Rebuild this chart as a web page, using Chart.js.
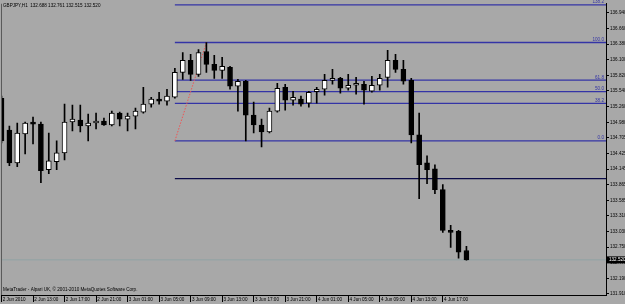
<!DOCTYPE html>
<html><head><meta charset="utf-8">
<script src="https://cdn.jsdelivr.net/npm/chart.js@4.4.1/dist/chart.umd.min.js"></script>
<style>html,body{margin:0;padding:0;background:#a8a8a8;overflow:hidden}#wrap{width:625px;height:304px;position:relative}canvas{display:block}</style>
</head><body><div id="wrap"><canvas id="c" width="625" height="304"></canvas></div>
<script>
const symbolTitle = 'GBPJPY,H1  132.688 132.761 132.515 132.520';
const copyright = 'MetaTrader - Alpari UK, \u00A9 2001-2010 MetaQuotes Software Corp.';

const opens  = [135.411,134.843,134.256,134.772,134.985,134.949,134.132,134.274,134.434,134.985,
                135.020,134.914,134.967,135.003,134.932,135.145,135.038,135.092,135.163,135.305,
                135.394,135.358,135.429,135.874,136.087,135.838,136.247,136.016,135.909,135.962,
                135.625,135.714,135.109,134.932,134.807,135.180,135.607,135.376,135.394,135.323,
                135.527,135.571,135.731,135.767,135.589,135.643,135.660,135.536,135.643,135.785,
                136.087,135.927,135.731,134.754,134.256,134.150,133.776,133.048,133.030,132.688];
const highs  = [135.447,134.914,134.967,134.985,135.074,134.985,134.789,134.647,135.305,135.287,
                135.287,135.127,135.145,135.056,135.180,135.163,135.145,135.234,135.607,135.429,
                135.518,135.571,135.945,136.229,136.194,136.282,136.407,136.176,136.140,135.980,
                135.749,135.731,135.340,135.038,135.234,135.678,135.660,135.536,135.447,135.536,
                135.607,135.838,135.927,135.785,135.838,135.785,135.714,135.802,135.838,136.265,
                136.194,136.087,135.767,135.145,134.381,134.221,133.865,133.136,133.048,132.761];
const lows   = [134.612,134.203,134.185,134.416,134.594,133.901,134.061,134.132,134.309,134.825,
                134.807,134.647,134.860,134.925,134.914,134.914,134.825,134.860,135.145,135.251,
                135.305,135.287,135.411,135.749,135.731,135.802,135.874,135.767,135.767,135.571,
                135.180,134.647,134.789,134.541,134.789,135.163,135.198,135.287,135.269,135.251,
                135.323,135.465,135.660,135.500,135.554,135.483,135.305,135.518,135.554,135.607,
                135.874,135.660,134.612,133.616,133.883,133.705,133.012,132.745,132.550,132.515];
const closes = [134.647,134.256,134.789,134.967,134.949,134.114,134.292,134.434,134.985,135.038,
                134.914,134.967,135.003,134.932,135.145,135.038,135.092,135.180,135.305,135.394,
                135.358,135.447,135.874,136.087,135.838,136.229,136.016,135.909,135.980,135.625,
                135.714,135.109,134.932,134.807,135.180,135.589,135.376,135.429,135.305,135.518,
                135.571,135.731,135.767,135.589,135.643,135.678,135.554,135.643,135.767,136.087,
                135.927,135.714,134.754,134.221,134.132,133.776,133.048,133.012,132.657,132.520];

const timeLabelBars = [0,4,8,12,16,20,24,28,32,36,40,44,48,52,56];
const timeLabels = ['2 Jun 2010','2 Jun 13:00','2 Jun 17:00','2 Jun 21:00','3 Jun 01:00','3 Jun 05:00',
                    '3 Jun 09:00','3 Jun 13:00','3 Jun 17:00','3 Jun 21:00','4 Jun 01:00','4 Jun 05:00',
                    '4 Jun 09:00','4 Jun 13:00','4 Jun 17:00'];
const priceTicks = [136.940,136.660,136.380,136.100,135.820,135.540,135.260,134.980,134.705,134.425,
                    134.145,133.865,133.585,133.310,133.030,132.750,132.470,132.190,131.910];

const fibLevels = [0, 38.2, 50, 61.8, 100, 138.2];
const fibLow = 134.647, fibHigh = 136.407;
const fibStartBar = 22, fibEndBar = 26;
const hLinePrice = 133.972;
const hLineStartBar = 22;
const bidPrice = 132.520;

const X_MIN = -0.0635, X_MAX = 76.71;
const Y_MIN = 131.892, Y_MAX = 137.100;
const FONT = {family:'"Liberation Sans", Arial, sans-serif', size:4.6};
const FIB_COLOR = '#3434a6';

const bodies = opens.map((o,i)=>({x:i, y:[o, closes[i]]}));
const wicks = highs.map((h,i)=>({x:i, y:[lows[i], h]}));
const bodyColors = opens.map((o,i)=> closes[i] >= o ? '#ffffff' : '#000000');
const fibPrice = l => fibLow + (fibHigh - fibLow) * l / 100;

const lineDs = (data, color, width, dash) => ({
  type:'line', data, borderColor:color, borderWidth:width, borderDash:dash||[],
  pointRadius:0, fill:false, tension:0
});

const datasets = [
  {type:'bar', data:bodies, backgroundColor:bodyColors, borderColor:'#000', borderWidth:1,
   borderSkipped:false, barThickness:5, grouped:false, minBarLength:1},
  {type:'bar', data:wicks, backgroundColor:'#000', borderWidth:0, barThickness:1, grouped:false},
  lineDs([{x:fibStartBar,y:fibLow},{x:fibEndBar,y:fibHigh}], '#ee5555', 1, [1.5,1.5]),
  ...fibLevels.map(l => lineDs([{x:fibStartBar,y:fibPrice(l)},{x:X_MAX,y:fibPrice(l)}], FIB_COLOR, 1.3)),
  lineDs([{x:hLineStartBar,y:hLinePrice},{x:X_MAX,y:hLinePrice}], '#0c0c48', 1.3),
  lineDs([{x:X_MIN,y:bidPrice},{x:X_MAX,y:bidPrice}], '#8fa2a4', 1)
];

const textPlugin = {
  id:'mt4text',
  beforeDraw(chart){
    const c = chart.ctx; c.save(); c.fillStyle = '#a8a8a8'; c.fillRect(0,0,chart.width,chart.height); c.restore();
  },
  afterDraw(chart){
    const c = chart.ctx, ys = chart.scales.y, ca = chart.chartArea;
    c.save();
    c.font = FONT.size + 'px ' + FONT.family;
    c.fillStyle = '#000'; c.textAlign = 'left'; c.textBaseline = 'middle';
    c.fillText(symbolTitle, 3, 6);
    c.fillText(copyright, 3, 289.5);
    c.fillStyle = FIB_COLOR; c.textAlign = 'right'; c.textBaseline = 'bottom';
    fibLevels.forEach(l => c.fillText(l.toFixed(1), ca.right - 2, ys.getPixelForValue(fibPrice(l)) - 0.5));
    const by = ys.getPixelForValue(bidPrice);
    c.fillStyle = '#000'; c.fillRect(ca.right + 1, by - 3.5, 18, 7);
    c.fillStyle = '#fff'; c.textAlign = 'left'; c.textBaseline = 'middle';
    c.fillText(bidPrice.toFixed(3), ca.right + 3, by + 0.3);
    c.strokeStyle = '#5a5a5a'; c.lineWidth = 1;
    c.beginPath(); c.moveTo(ca.left + 0.5, ca.top); c.lineTo(ca.left + 0.5, ca.bottom); c.stroke();
    c.restore();
  }
};

new Chart(document.getElementById('c'), {
  type:'bar',
  data:{datasets},
  options:{
    responsive:false, animation:false, devicePixelRatio:1,
    layout:{padding:{left:1, top:2, right:0, bottom:0}},
    plugins:{legend:{display:false}, tooltip:{enabled:false}},
    scales:{
      x:{type:'linear', position:'bottom', min:X_MIN, max:X_MAX, offset:false,
         grid:{drawOnChartArea:false, drawTicks:true, tickLength:7, color:'#000', offset:false},
         border:{display:true, color:'#000', width:1},
         ticks:{autoSkip:false, maxRotation:0, minRotation:0, align:'start', padding:-5, color:'#000', font:FONT,
                callback:(v,i)=> ' ' + (timeLabels[i] || '')},
         afterBuildTicks:s => { s.ticks = timeLabelBars.map(v=>({value:v})); },
         afterFit:s => { s.height = 9; }},
      y:{type:'linear', position:'right', min:Y_MIN, max:Y_MAX,
         grid:{drawOnChartArea:false, drawTicks:true, tickLength:3, color:'#000'},
         border:{display:true, color:'#000', width:1},
         ticks:{padding:1, color:'#000', font:FONT, autoSkip:false, callback:v => Number(v).toFixed(3)},
         afterBuildTicks:s => { s.ticks = priceTicks.map(v=>({value:v})); },
         afterFit:s => { s.width = 19; }}
    }
  },
  plugins:[textPlugin]
});
</script></body></html>
